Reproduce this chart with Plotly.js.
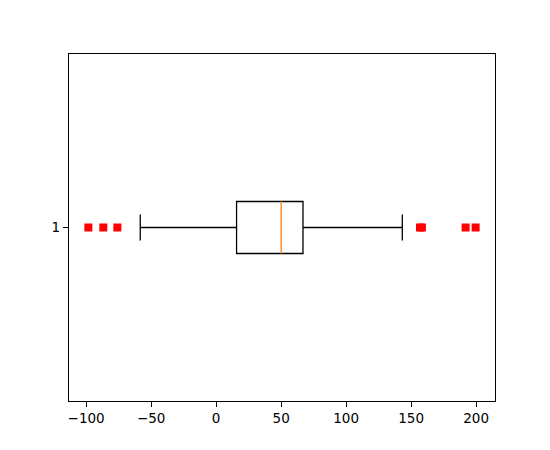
<!DOCTYPE html>
<html>
<head>
<meta charset="utf-8">
<script src="https://cdn.plot.ly/plotly-3.0.1.min.js"></script>
<style>html,body{margin:0;padding:0;background:#fff;}#chart{width:550px;height:450px;}</style>
</head>
<body>
<div id="chart"></div>
<script>
const categories = [1];
const q1 = [15.7];
const median = [50];
const q3 = [66.8];
const lowerWhisker = [-58.4];
const upperWhisker = [143.2];
const outliers = [-98.3, -86.8, -76.0, 156.8, 158.3, 191.9, 199.6];
const tickLabels = ['1'];

const boxWidth = 0.15;
const inner = boxWidth / 2 * 0.97;

const traces = [
  {
    type: 'box', orientation: 'h',
    y: categories, q1: q1, median: median, q3: q3,
    lowerfence: lowerWhisker, upperfence: upperWhisker,
    boxpoints: false, width: boxWidth, whiskerwidth: 0.5,
    line: {color: '#000', width: 1.3},
    fillcolor: 'rgba(0,0,0,0)',
    hoverinfo: 'skip', showlegend: false
  },
  {
    type: 'scatter', mode: 'lines',
    x: [median[0], median[0]],
    y: [categories[0] - inner, categories[0] + inner],
    line: {color: '#fff', width: 3},
    hoverinfo: 'skip', showlegend: false
  },
  {
    type: 'scatter', mode: 'lines',
    x: [median[0], median[0]],
    y: [categories[0] - boxWidth/2, categories[0] + boxWidth/2],
    line: {color: '#ff7f0e', width: 1.3},
    hoverinfo: 'skip', showlegend: false
  },
  {
    type: 'scatter', mode: 'markers',
    x: outliers, y: outliers.map(() => categories[0]),
    marker: {symbol: 'square', color: '#ff0000', size: 8, line: {width: 0}},
    hoverinfo: 'skip', showlegend: false
  }
];

const layout = {
  width: 550, height: 450,
  margin: {l: 69, r: 55, t: 54, b: 49},
  paper_bgcolor: '#fff', plot_bgcolor: '#fff',
  font: {family: 'DejaVu Sans', size: 13.5, color: '#000'},
  showlegend: false,
  xaxis: {
    range: [-113.2, 214.5], tickvals: [-100, -50, 0, 50, 100, 150, 200],
    showgrid: false, zeroline: false,
    showline: true, mirror: true, linecolor: '#000', linewidth: 1.1,
    ticks: 'outside', ticklen: 5, tickwidth: 1.1, tickcolor: '#000'
  },
  yaxis: {
    range: [0.5, 1.5], tickvals: categories, ticktext: tickLabels,
    showgrid: false, zeroline: false,
    showline: true, mirror: true, linecolor: '#000', linewidth: 1.1,
    ticks: 'outside', ticklen: 5, tickwidth: 1.1, tickcolor: '#000'
  }
};

Plotly.newPlot('chart', traces, layout, {staticPlot: true, displayModeBar: false});
</script>
</body>
</html>
